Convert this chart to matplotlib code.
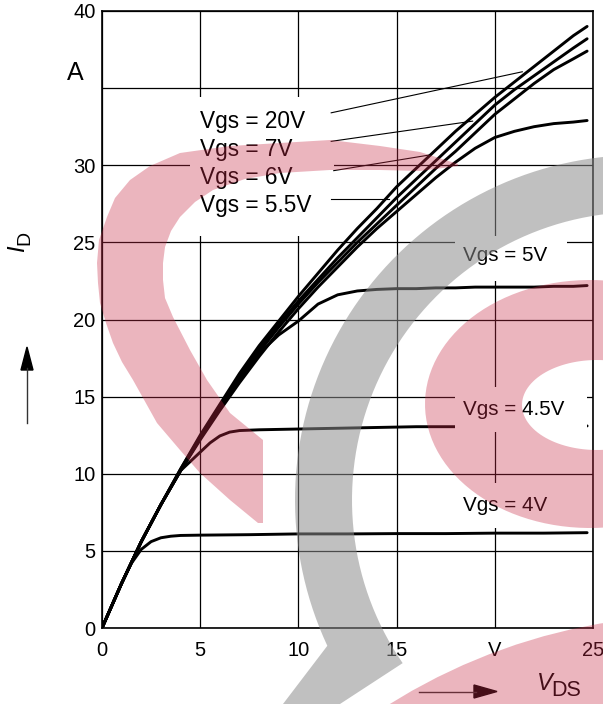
import numpy as np
import matplotlib
matplotlib.use("Agg")
import matplotlib.pyplot as plt
from matplotlib.patches import Rectangle, Polygon, PathPatch, Circle
from matplotlib.path import Path

plt.rcParams['font.family'] = ['Liberation Sans', 'DejaVu Sans']

# ---------------- data ----------------
VDS = [0, 1, 2, 3, 4, 5, 6, 7, 8, 9, 10, 11, 12, 13, 14, 15, 16, 17, 18, 19, 20, 21, 22, 23, 24, 24.7]
ID_20V = [0, 2.9, 5.6, 8.0, 10.3, 12.5, 14.5, 16.5, 18.3, 19.9, 21.5, 23.0, 24.5, 25.9, 27.2, 28.6,
          29.8, 31.0, 32.2, 33.3, 34.4, 35.4, 36.4, 37.4, 38.4, 39.0]
ID_7V = [0, 2.9, 5.6, 8.0, 10.3, 12.4, 14.4, 16.3, 18.1, 19.7, 21.2, 22.6, 24.0, 25.3, 26.6, 27.9,
         29.1, 30.3, 31.5, 32.7, 33.9, 34.9, 35.8, 36.7, 37.6, 38.2]
ID_6V = [0, 2.9, 5.6, 8.0, 10.2, 12.3, 14.2, 16.1, 17.9, 19.5, 21.0, 22.4, 23.7, 25.0, 26.2, 27.4,
         28.6, 29.8, 30.9, 32.1, 33.3, 34.3, 35.3, 36.2, 36.9, 37.4]
ID_55V = [0, 2.9, 5.6, 8.0, 10.2, 12.2, 14.1, 15.9, 17.6, 19.2, 20.7, 22.1, 23.4, 24.7, 25.9, 27.0,
          28.1, 29.2, 30.2, 31.1, 31.8, 32.2, 32.5, 32.7, 32.8, 32.9]
ID_5V = [0, 2.9, 5.6, 8.0, 10.2, 12.3, 14.2, 16.0, 17.8, 19.0, 19.9, 21.0, 21.6, 21.85, 21.95, 22.0,
         22.0, 22.05, 22.05, 22.1, 22.1, 22.1, 22.1, 22.15, 22.15, 22.2]

VDS_45 = [0, 1, 2, 3, 4, 4.5, 5, 5.5, 6, 6.5, 7, 8, 10, 12, 14, 16, 18, 20, 22, 24.7]
ID_45V = [0, 2.9, 5.6, 8.0, 10.2, 10.8, 11.4, 12.0, 12.45, 12.7, 12.8, 12.85, 12.9, 12.95, 13.0,
          13.05, 13.05, 13.1, 13.1, 13.1]

VDS_4 = [0, 1, 1.5, 2, 2.5, 3, 3.5, 4, 5, 7.5, 10, 12.5, 15, 17.5, 20, 22.5, 24.7]
ID_4V = [0, 2.9, 4.2, 5.1, 5.6, 5.85, 5.95, 6.0, 6.02, 6.05, 6.1, 6.1, 6.12, 6.12, 6.15, 6.15, 6.18]

XTICKS = [0, 5, 10, 15, 20, 25]
XTICK_LABELS = ['0', '5', '10', '15', 'V', '25']
YTICKS = [0, 5, 10, 15, 20, 25, 30, 35, 40]
YTICK_LABELS = ['0', '5', '10', '15', '20', '25', '30', '', '40']

TOP_LABELS = ['Vgs = 20V', 'Vgs = 7V', 'Vgs = 6V', 'Vgs = 5.5V']
TOP_LABEL_Y = [32.44, 30.61, 28.80, 26.99]
RIGHT_LABELS = ['Vgs = 5V', 'Vgs = 4.5V', 'Vgs = 4V']
RIGHT_LABEL_Y = [23.79, 13.84, 7.59]

# ---------------- figure ----------------
W, H = 603, 704
fig = plt.figure(figsize=(W / 100, H / 100), dpi=100)
L, R, T, B = 102, 593, 11, 628
ax = fig.add_axes([L / W, 1 - B / H, (R - L) / W, (B - T) / H])
ax.set_xlim(0, 25)
ax.set_ylim(0, 40)
ax.set_xticks(XTICKS)
ax.set_xticklabels(XTICK_LABELS)
ax.set_yticks(YTICKS)
ax.set_yticklabels(YTICK_LABELS)
ax.tick_params(length=0, labelsize=14.5)
ax.tick_params(axis='x', pad=9)
ax.tick_params(axis='y', pad=4.5)
ax.set_axisbelow(True)
ax.grid(True, color='black', lw=0.9)
for s in ax.spines.values():
    s.set_linewidth(1.2)
    s.set_color('black')

curve_kw = dict(color='black', lw=2.1, zorder=2, solid_capstyle='round')
ax.plot(VDS, ID_20V, **curve_kw)
ax.plot(VDS, ID_7V, **curve_kw)
ax.plot(VDS, ID_6V, **curve_kw)
ax.plot(VDS, ID_55V, **curve_kw)
ax.plot(VDS, ID_5V, **curve_kw)
ax.plot(VDS_45, ID_45V, **curve_kw)
ax.plot(VDS_4, ID_4V, **curve_kw)

# white label boxes that interrupt grid
box_kw = dict(facecolor='white', edgecolor='none', zorder=2.5)
ax.add_patch(Rectangle((4.5, 25.4), 7.3, 9.0, **box_kw))
ax.add_patch(Rectangle((17.96, 22.5), 5.74, 2.9, **box_kw))
ax.add_patch(Rectangle((17.96, 12.7), 6.71, 2.9, **box_kw))
ax.add_patch(Rectangle((17.96, 6.5), 5.74, 2.9, **box_kw))

for lab, y in zip(TOP_LABELS, TOP_LABEL_Y):
    ax.text(5.01, y, lab, fontsize=16.3, ha='left', va='baseline', zorder=4)
for lab, y in zip(RIGHT_LABELS, RIGHT_LABEL_Y):
    ax.text(18.37, y, lab, fontsize=14.9, ha='left', va='baseline', zorder=4)

# leader lines
lead_kw = dict(color='black', lw=0.8, zorder=3)
ax.plot([11.67, 21.4], [33.4, 36.06], **lead_kw)
ax.plot([11.67, 18.87], [31.55, 32.86], **lead_kw)
ax.plot([11.8, 16.7], [29.65, 30.67], **lead_kw)
ax.plot([11.67, 14.6], [27.8, 27.8], **lead_kw)

ax.text(-0.92, 35.5, 'A', fontsize=18, ha='right', va='baseline', clip_on=False)

# ---------------- overlay in pixel coordinates ----------------
ov = fig.add_axes([0, 0, 1, 1], zorder=10)
ov.set_xlim(0, W)
ov.set_ylim(H, 0)
ov.axis('off')
ov.patch.set_alpha(0)

# axis titles and arrows
ov.text(17.5, 249, 'I', fontsize=17, style='italic', rotation=90, ha='center', va='center')
ov.text(25, 238, 'D', fontsize=14, rotation=90, ha='center', va='center')
ov.plot([27, 27], [423, 368], color='#333333', lw=1.0)
ov.add_patch(Polygon([(27, 347), (21, 370), (33, 370)], closed=True, color='black'))

ov.text(545, 684, 'V', fontsize=17, style='italic', ha='center', va='center')
ov.text(566, 691, 'DS', fontsize=15.5, ha='center', va='center')
ov.plot([419, 476], [691.5, 691.5], color='#333333', lw=1.0)
ov.add_patch(Polygon([(497, 691.5), (474, 685), (474, 698)], closed=True, color='black'))

# watermark
pink = (200 / 255, 43 / 255, 71 / 255, 0.35)
gray = (139 / 255, 139 / 255, 139 / 255, 0.54)

hook_outer = [(458, 164), (420, 152), (380, 146), (330, 140), (280, 143), (230, 146), (180, 153),
              (150, 166), (130, 180), (115, 198), (107, 217), (99, 240), (97, 263), (98, 283),
              (100, 303), (106, 323), (113, 343), (122, 362), (133, 380), (157, 423), (180, 450),
              (200, 473), (230, 500), (258, 523), (263, 523)]
hook_inner = [(263, 440), (230, 413), (207, 380), (190, 350), (173, 317), (165, 298), (163, 280),
              (163, 263), (165, 247), (171, 231), (180, 217), (195, 202), (213, 190), (245, 179),
              (280, 173), (330, 170), (380, 170), (420, 171), (458, 166)]
ov.add_patch(Polygon(hook_outer + hook_inner, closed=True, facecolor=pink, edgecolor='none', zorder=5))

# gray arc
cx, cy, ro, ri = 640, 500, 345, 288
to = np.radians(np.linspace(-75, -205, 80))
ti = np.radians(np.linspace(-214.5, -75, 80))
g_pts = [(cx + ro * np.cos(t), cy + ro * np.sin(t)) for t in to]
g_pts += [(283, 704), (340, 704)]
g_pts += [(cx + ri * np.cos(t), cy + ri * np.sin(t)) for t in ti]
ov.add_patch(Polygon(g_pts, closed=True, facecolor=gray, edgecolor='none', zorder=5))

# right pink ring
tt = np.linspace(0, 2 * np.pi, 120)
outer = np.column_stack([590 + 165 * np.cos(tt), 404 + 124 * np.sin(tt)])
inner = np.column_stack([597 + 75 * np.cos(tt[::-1]), 405 + 45 * np.sin(tt[::-1])])
verts = np.vstack([outer, outer[:1], inner, inner[:1]])
codes = ([Path.MOVETO] + [Path.LINETO] * (len(outer) - 1) + [Path.CLOSEPOLY] +
         [Path.MOVETO] + [Path.LINETO] * (len(inner) - 1) + [Path.CLOSEPOLY])
ov.add_patch(PathPatch(Path(verts, codes), facecolor=pink, edgecolor='none', zorder=5))

# bottom right pink
ov.add_patch(Circle((700, 1200), 585, facecolor=pink, edgecolor='none', zorder=5))

fig.savefig('out.png', dpi=100)
